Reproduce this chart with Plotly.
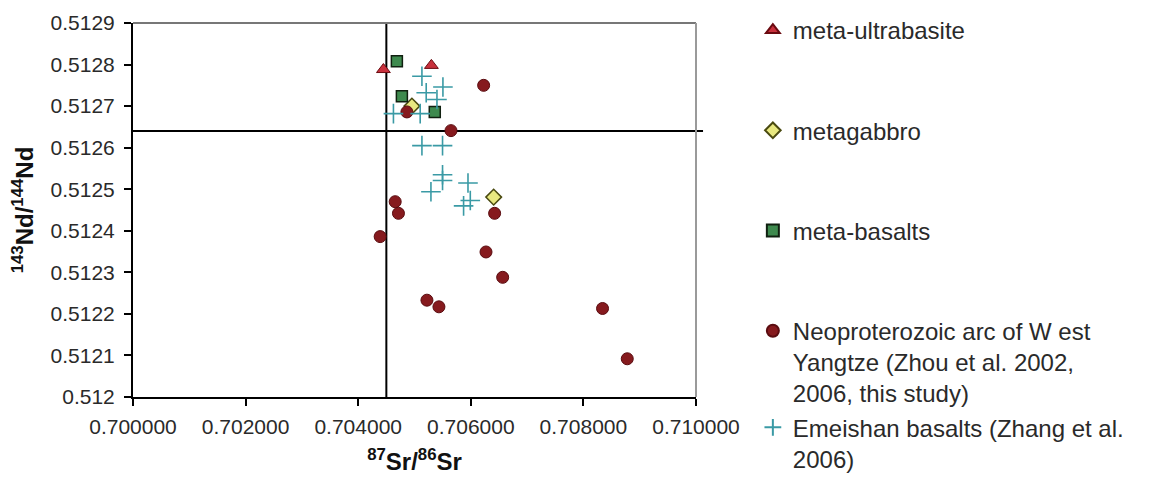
import plotly.graph_objects as go

# ---- data ----
ultra_x = [0.704448, 0.705300]
ultra_y = [0.512788, 0.512798]

gabbro_x = [0.704954, 0.706406]
gabbro_y = [0.512700, 0.512481]

basalt_x = [0.704687, 0.704776, 0.705360]
basalt_y = [0.512808, 0.512724, 0.512686]

neo_x = [0.706228, 0.704865, 0.705648, 0.704657, 0.704715, 0.706423, 0.704390,
         0.706270, 0.706566, 0.705221, 0.705434, 0.708340, 0.708779]
neo_y = [0.512750, 0.512686, 0.512641, 0.512470, 0.512442, 0.512442, 0.512386,
         0.512349, 0.512288, 0.512233, 0.512217, 0.512213, 0.512092]

emei_x = [0.705132, 0.705505, 0.705208, 0.705399, 0.704626, 0.705101, 0.705132,
          0.705498, 0.705498, 0.705498, 0.705292, 0.705950, 0.705991, 0.705872]
emei_y = [0.512772, 0.512746, 0.512732, 0.512716, 0.512682, 0.512682, 0.512605,
          0.512605, 0.512535, 0.512521, 0.512494, 0.512515, 0.512473, 0.512460]

ref_sr = 0.7045
ref_nd = 0.51264

x_ticks = [0.700, 0.702, 0.704, 0.706, 0.708, 0.710]
x_ticktext = ["0.700000", "0.702000", "0.704000", "0.706000", "0.708000", "0.710000"]
y_ticks = [0.5120, 0.5121, 0.5122, 0.5123, 0.5124, 0.5125, 0.5126, 0.5127, 0.5128, 0.5129]
y_ticktext = ["0.512", "0.5121", "0.5122", "0.5123", "0.5124", "0.5125", "0.5126",
              "0.5127", "0.5128", "0.5129"]

FONT = "Liberation Sans, Arial, sans-serif"
TXT = "#2a2a2a"
# the page body adds an 8px offset, so the figure is drawn 8px smaller
W, H = 1141, 480
PLOT_TOP, PLOT_BOTTOM = 15, 389

fig = go.Figure()

fig.add_trace(go.Scatter(
    x=ultra_x, y=ultra_y, mode="markers", name="meta-ultrabasite", legendgroup="a",
    marker=dict(symbol="triangle-up", size=12, color="#C8303C",
                line=dict(color="#6a0a10", width=1))))
fig.add_trace(go.Scatter(
    x=gabbro_x, y=gabbro_y, mode="markers", name="metagabbro", legendgroup="b",
    marker=dict(symbol="diamond", size=12, color="#E8E880",
                line=dict(color="#4a4a10", width=1.5))))
fig.add_trace(go.Scatter(
    x=basalt_x, y=basalt_y, mode="markers", name="meta-basalts", legendgroup="c",
    marker=dict(symbol="square", size=11, color="#3E8A4E",
                line=dict(color="#102010", width=1.5))))
fig.add_trace(go.Scatter(
    x=neo_x, y=neo_y, mode="markers",
    name="Neoproterozoic arc of W est<br>Yangtze (Zhou et al. 2002,<br>2006, this study)",
    legendgroup="d",
    marker=dict(symbol="circle", size=12, color="#861A1E",
                line=dict(color="#5a0c10", width=1))))
fig.add_trace(go.Scatter(
    x=emei_x, y=emei_y, mode="markers",
    name="Emeishan basalts (Zhang et al.<br>2006)", legendgroup="d",
    marker=dict(symbol="cross-thin", size=14, color="#3A9AA5",
                line=dict(color="#3A9AA5", width=1.6))))

# reference lines (bulk earth / CHUR)
fig.add_shape(type="line", xref="x", yref="y domain", x0=ref_sr, x1=ref_sr, y0=0, y1=1,
              line=dict(color="black", width=2), layer="below")
fig.add_shape(type="line", xref="x domain", yref="y", x0=0, x1=1.0125, y0=ref_nd, y1=ref_nd,
              line=dict(color="black", width=2), layer="below")
# plot-area frame (top/right)
fig.add_shape(type="line", xref="x domain", yref="y domain", x0=0, x1=1, y0=1, y1=1,
              line=dict(color="#777777", width=2), layer="below")
fig.add_shape(type="line", xref="x domain", yref="y domain", x0=1, x1=1, y0=0, y1=1,
              line=dict(color="#9a9a9a", width=2), layer="below")

fig.update_layout(
    width=W, height=H,
    margin=dict(l=125, r=453, t=0, b=0, autoexpand=False),
    paper_bgcolor="white", plot_bgcolor="white",
    font=dict(family=FONT, color=TXT, size=21),
    showlegend=True,
    legend=dict(x=1.101, y=1.0, xanchor="left", yanchor="top",
                font=dict(family=FONT, size=24, color=TXT),
                tracegroupgap=66, valign="top", itemsizing="constant",
                maxheight=1.0, bgcolor="rgba(0,0,0,0)"),
    xaxis=dict(range=[0.700, 0.710], tickvals=x_ticks, ticktext=x_ticktext,
               showgrid=False, zeroline=False, showline=True, linecolor="black", linewidth=2,
               ticks="outside", ticklen=7, tickwidth=2, tickcolor="black",
               tickfont=dict(size=21, color=TXT), ticklabelstandoff=3,
               title=dict(text="<b><sup>87</sup>Sr/<sup>86</sup>Sr</b>",
                          font=dict(size=24, color="#111"), standoff=16)),
    yaxis=dict(range=[0.5120, 0.5129], tickvals=y_ticks, ticktext=y_ticktext,
               domain=[(H - PLOT_BOTTOM) / H, (H - PLOT_TOP) / H],
               showgrid=False, zeroline=False, showline=True, linecolor="black", linewidth=2,
               ticks="outside", ticklen=7, tickwidth=2, tickcolor="black",
               tickfont=dict(size=21, color=TXT), ticklabelstandoff=5,
               title=dict(text="<b><sup>143</sup>Nd/<sup>144</sup>Nd</b>",
                          font=dict(size=24, color="#111"), standoff=22)),
)

fig.write_html("out.html")
